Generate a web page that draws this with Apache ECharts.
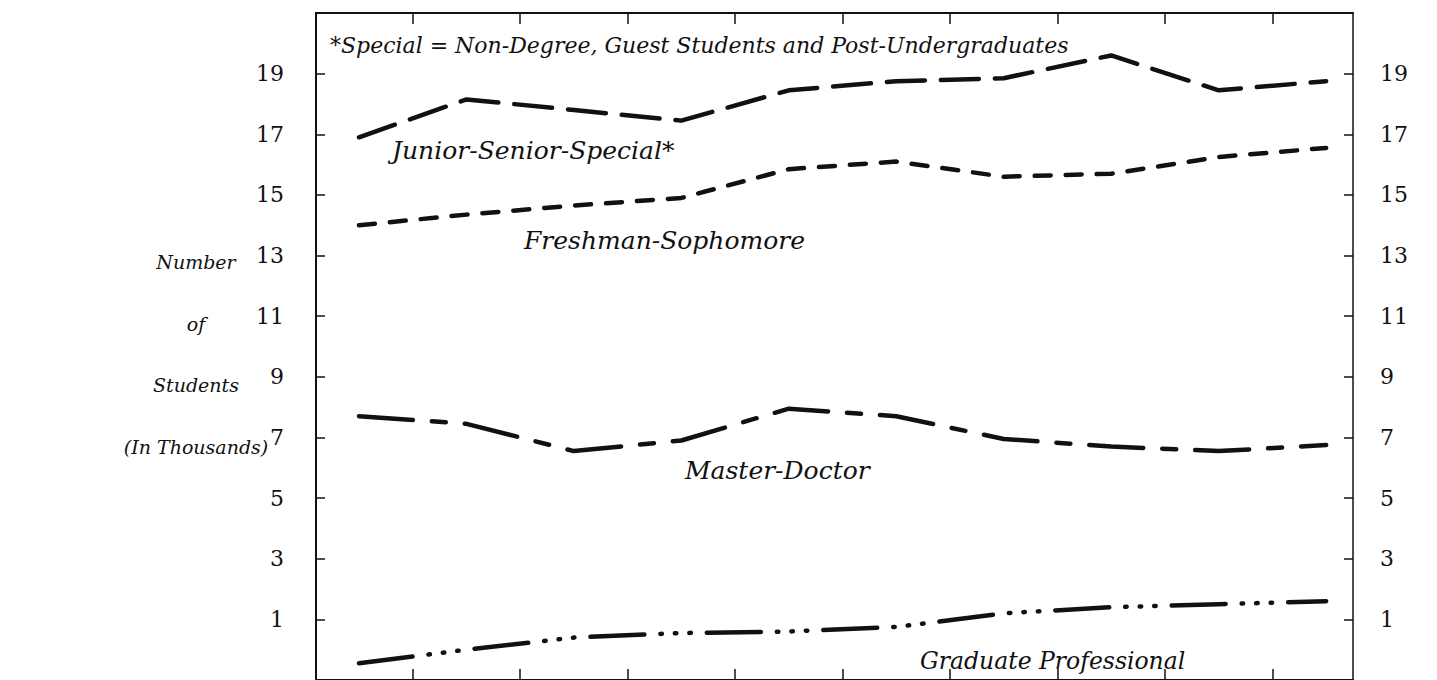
<!DOCTYPE html>
<html>
<head>
<meta charset="utf-8">
<title>Number of Students</title>
<script src="https://cdn.jsdelivr.net/npm/echarts@6/dist/echarts.min.js"></script>
<style>
  html, body { margin: 0; padding: 0; background: #fff; }
  #chart { width: 1437px; height: 680px; }
</style>
</head>
<body>
<div id="chart"></div>
<script>
  /******************/
  /******************/
  //region    //data

  // ten yearly points, no year labels printed on the chart
  let xPoints = [0, 1, 2, 3, 4, 5, 6, 7, 8, 9];
  let xTicks = [0.5, 1.5, 2.5, 3.5, 4.5, 5.5, 6.5, 7.5, 8.5];
  let yTicks = [1, 3, 5, 7, 9, 11, 13, 15, 17, 19];

  let juniorSenior = [16.9, 18.15, 17.8, 17.45, 18.45, 18.75, 18.85, 19.6, 18.45, 18.75];
  let freshmanSophomore = [14.0, 14.35, 14.65, 14.9, 15.85, 16.1, 15.6, 15.7, 16.25, 16.55];
  let masterDoctor = [7.7, 7.45, 6.55, 6.9, 7.95, 7.7, 6.95, 6.7, 6.55, 6.75];
  let graduateProfessional = [-0.45, 0.0, 0.4, 0.55, 0.6, 0.75, 1.2, 1.4, 1.5, 1.6];

  let axisName = ['Number', 'of', 'Students', '(In Thousands)'];
  let footnote = '*Special = Non-Degree, Guest Students and Post-Undergraduates';

  //endregion

  /******************/
  /******************/
  //region    //initialize

  const INK = '#111';
  const SERIF = '"DejaVu Serif", "Liberation Serif", serif';
  const RECT = {left: 316, top: 13, width: 1037, height: 667, containLabel: false};

  let chart = echarts.init(document.getElementById('chart'), null, {renderer: 'svg'});

  //endregion

  /******************/
  /******************/
  //region    //function

  /**
   * x,y pairs for one series
   */
  function pairs(values) {
    return xPoints.map((x, i) => [x, values[i]]);
  }

  function xAxis(position, gridIndex) {
    let axisLine = {show: true, lineStyle: {color: INK, width: 2}};
    //bottom one must stay on the frame, not on y = 0
    if (position === 'bottom') axisLine.onZero = false;
    return {
      type: 'value',
      gridIndex: gridIndex,
      position: position,
      min: -0.4,
      max: 9.25,
      axisLine: axisLine,
      axisTick: {show: true, inside: true, length: 11, customValues: xTicks, lineStyle: {color: INK, width: 1.5}},
      axisLabel: {show: false},
      splitLine: {show: false},
    };
  }

  function yAxis(position) {
    return {
      type: 'value',
      gridIndex: 0,
      position: position,
      min: -1,
      max: 21,
      axisLine: {show: true, onZero: false, lineStyle: {color: INK, width: position === 'left' ? 2 : 1.5}},
      axisTick: {show: true, inside: true, length: 9, customValues: yTicks, lineStyle: {color: INK, width: 1.5}},
      axisLabel: {
        show: true,
        customValues: yTicks,
        margin: position === 'left' ? 32 : 27,
        color: INK,
        fontFamily: SERIF,
        fontSize: 22,
      },
      splitLine: {show: false},
    };
  }

  function line(name, values, dash) {
    return {
      name: name,
      type: 'line',
      data: pairs(values),
      symbol: 'none',
      silent: true,
      lineStyle: {color: INK, width: 4.5, type: dash, cap: 'round', join: 'round'},
    };
  }

  function note(text, x, y, size, align) {
    return {
      type: 'text',
      x: x,
      y: y,
      silent: true,
      style: {
        text: text,
        fill: INK,
        fontFamily: SERIF,
        fontStyle: 'italic',
        fontSize: size,
        align: align || 'left',
        verticalAlign: 'middle',
      },
    };
  }

  function deployChart() {
    let graphic = [
      note(footnote, 330, 45, 22),
      note('Junior-Senior-Special*', 392, 150, 25),
      note('Freshman-Sophomore', 524, 240, 25),
      note('Master-Doctor', 685, 470, 25),
      note('Graduate Professional', 920, 661, 23.5),
    ];
    axisName.forEach((t, i) => {
      graphic.push(note(t, 196, 262 + i * 61.5, 19, 'center'));
    });

    let option = {
      backgroundColor: '#fff',
      animation: false,
      // second grid only carries the top frame
      grid: [RECT, RECT],
      xAxis: [xAxis('bottom', 0), xAxis('top', 1)],
      yAxis: [
        yAxis('left'),
        yAxis('right'),
        {type: 'value', gridIndex: 1, min: 1, max: 2, show: false},
      ],
      series: [
        line('Junior-Senior-Special', juniorSenior, [38, 16]),
        line('Freshman-Sophomore', freshmanSophomore, [16, 15]),
        line('Master-Doctor', masterDoctor, [54, 19, 14, 19]),
        line('Graduate Professional', graduateProfessional, [54, 16, 1.5, 13, 1.5, 13, 1.5, 16]),
      ],
      graphic: graphic,
    };

    chart.setOption(option);
  }

  deployChart();

  //endregion
</script>
</body>
</html>
